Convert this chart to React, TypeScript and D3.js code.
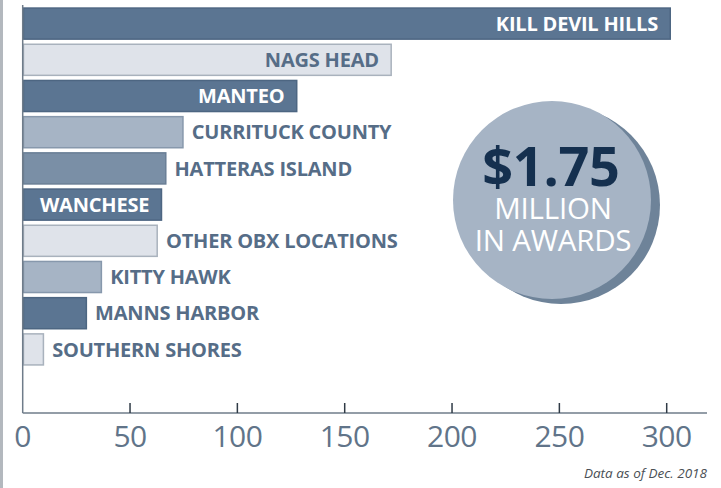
import React from "react";
import * as d3 from "d3";

const categories = [
  "KILL DEVIL HILLS",
  "NAGS HEAD",
  "MANTEO",
  "CURRITUCK COUNTY",
  "HATTERAS ISLAND",
  "WANCHESE",
  "OTHER OBX LOCATIONS",
  "KITTY HAWK",
  "MANNS HARBOR",
  "SOUTHERN SHORES",
];
const values = [302, 172, 128, 75, 67, 65, 63, 37, 30, 10];
const shade = [0, 2, 0, 1, 3, 0, 2, 1, 0, 2];
const labelInside = [true, true, true, false, false, true, false, false, false, false];
const tickValues = [0, 50, 100, 150, 200, 250, 300];
const bigNumber = "$1.75";
const subLines = ["MILLION", "IN AWARDS"];
const note = "Data as of Dec. 2018";

const fills = ["#5b7592", "#a6b4c5", "#dfe3ea", "#7a8fa6"];
const strokes = ["#4d6682", "#8798ac", "#a9b2bd", "#6a7f96"];
const insideText = ["#ffffff", "#ffffff", "#566d87", "#ffffff"];

export default function App() {
  const W = 721;
  const H = 488;
  const x = d3.scaleLinear().domain([0, 300]).range([22.7, 666.7]);
  const y = d3
    .scaleBand<string>()
    .domain(categories)
    .range([5.5, 367.5])
    .paddingInner(0.1)
    .paddingOuter(0.05);
  const axisY = 413;
  const font = "'Open Sans', 'DejaVu Sans', sans-serif";

  return (
    <svg
      width={W}
      height={H}
      style={{ position: "absolute", left: 0, top: 0, background: "#fff" }}
    >
      <rect x={0} y={0} width={3} height={H} fill="#b3b8be" />
      {categories.map((c, i) => {
        const y0 = y(c)!;
        const bw = y.bandwidth();
        const x1 = x(values[i]);
        const inside = labelInside[i];
        return (
          <g key={c}>
            <rect
              x={x(0) + 0.75}
              y={y0 + 0.75}
              width={x1 - x(0) - 1.5}
              height={bw - 1.5}
              fill={fills[shade[i]]}
              stroke={strokes[shade[i]]}
              strokeWidth={1.5}
            />
            <text
              x={inside ? x1 - 13 : x1 + 8}
              y={y0 + bw / 2}
              dy="0.36em"
              textAnchor={inside ? "end" : "start"}
              fontFamily={font}
              fontWeight={700}
              fontSize={20}
              letterSpacing={-0.2}
              fill={inside ? insideText[shade[i]] : "#566d87"}
            >
              {c}
            </text>
          </g>
        );
      })}
      <line x1={x(0)} x2={x(0)} y1={5} y2={axisY} stroke="#6f7c8a" strokeWidth={1.5} />
      <line x1={x(0)} x2={707} y1={axisY} y2={axisY} stroke="#6f7c8a" strokeWidth={1.5} />
      {tickValues.map((t) => (
        <g key={t}>
          {t > 0 && (
            <line x1={x(t)} x2={x(t)} y1={axisY - 10} y2={axisY} stroke="#2f3a46" strokeWidth={1.5} />
          )}
          <text
            x={x(t)}
            y={447}
            textAnchor="middle"
            fontFamily={font}
            fontSize={30}
            letterSpacing={-0.5}
            fill="#617489"
          >
            {t}
          </text>
        </g>
      ))}
      <text
        x={707}
        y={478}
        textAnchor="end"
        fontFamily={font}
        fontStyle="italic"
        fontSize={13.5}
        fill="#4a4f55"
      >
        {note}
      </text>
      <circle cx={561} cy={205} r={99} fill="#6e8399" />
      <circle cx={552} cy={200} r={99} fill="#a6b4c5" />
      <text
        x={551}
        y={186}
        textAnchor="middle"
        fontFamily={font}
        fontWeight={700}
        fontSize={54}
        letterSpacing={-0.3}
        fill="#15304f"
      >
        {bigNumber}
      </text>
      {subLines.map((s, i) => (
        <text
          key={s}
          x={553}
          y={219 + i * 32}
          textAnchor="middle"
          fontFamily={font}
          fontSize={29.5}
          letterSpacing={-0.2}
          fill="#ffffff"
        >
          {s}
        </text>
      ))}
    </svg>
  );
}
